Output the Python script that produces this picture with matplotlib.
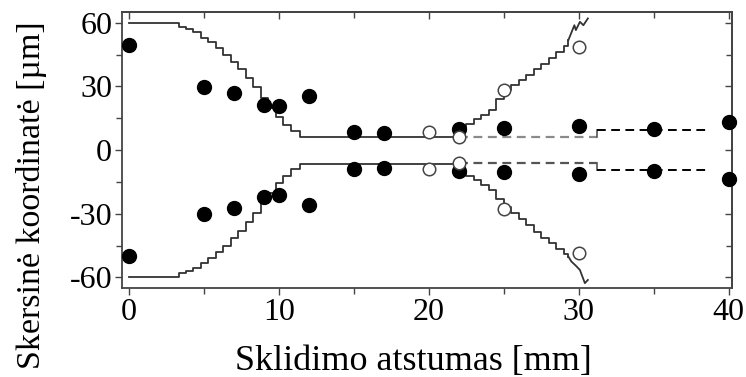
import matplotlib
matplotlib.use("Agg")
import matplotlib.pyplot as plt

# --- data ---
# measured points (filled)
x_meas = [0, 5, 7, 9, 10, 12, 15, 17, 22, 25, 30, 35, 40]
y_meas_up = [49.4, 29.8, 26.7, 21.2, 20.7, 25.3, 8.5, 7.8, 9.7, 10.2, 11.4, 9.9, 13.0]
y_meas_lo = [-49.7, -30.3, -27.1, -22.0, -21.2, -25.9, -8.9, -8.3, -9.7, -10.2, -11.3, -9.9, -13.6]

# open circles
x_open = [20, 22, 25, 30]
y_open_up = [8.7, 6.3, 28.2, 48.6]
y_open_lo = [-8.9, -6.0, -27.9, -48.6]

# contraction staircase
x_contr = [0, 3.3, 3.8, 4.3, 4.8, 5.3, 5.8, 6.3, 6.8, 7.3, 7.8, 8.3, 8.8, 9.3, 9.8, 10.3, 10.8, 11.4, 22]
y_contr_up = [60, 58, 57, 55.5, 53, 51, 48, 45, 41.5, 38, 34, 29.5, 24.5, 20, 15.5, 12, 9, 6.3, 6.3]
y_contr_lo = [-60, -58, -57, -55.5, -53, -51, -48, -45, -41.5, -38, -34, -29.5, -24.5, -20, -15.5, -12, -9, -6.6, -6.6]

# divergence staircase after 22 mm
x_div = [22, 22.5, 23.0, 23.5, 24.0, 24.5, 25.0, 25.5, 26.0, 26.5, 27.0, 27.5, 28.0, 28.5, 29.0, 29.3]
y_div_up = [10, 12.5, 14.5, 16.5, 18.8, 24, 28.2, 30.5, 33, 35.5, 38, 40.5, 43.5, 46, 49, 51.8]
y_div_lo = [-9.7, -12, -14, -16.5, -19, -23, -26.7, -29.5, -32.5, -35.5, -38.5, -41.5, -44, -46.5, -49, -50.2]

# zigzag ends near 30 mm
x_zig_up = [29.3, 29.7, 29.8, 30.07, 30.3, 30.6]
y_zig_up = [51.8, 58.8, 56.5, 60.4, 58.8, 62.0]
x_zig_lo = [29.3, 29.5, 29.8, 30.07, 30.4, 30.6]
y_zig_lo = [-50.2, -52.5, -54.5, -56.5, -62.7, -61.2]

# dashed levels
x_dash_gray = [22, 31.2]
y_dash_gray = 6.3
x_dash_black = [31.2, 38.7]
y_dash_black = 9.4

xticks = [0, 10, 20, 30, 40]
yticks = [-60, -30, 0, 30, 60]
xminor = [5, 15, 25, 35]
yminor = [-45, -15, 15, 45]

plt.rcParams['font.family'] = ['Liberation Serif', 'DejaVu Serif']
plt.rcParams['axes.unicode_minus'] = False

fig = plt.figure(figsize=(7.46, 3.77), dpi=100)
ax = fig.add_axes([0.1635, 0.236, 0.8175, 0.732])

lc = '#333333'
lw = 1.3
ax.plot(x_contr, y_contr_up, drawstyle='steps-post', color=lc, lw=lw)
ax.plot(x_contr, y_contr_lo, drawstyle='steps-post', color=lc, lw=lw)
ax.plot([22, 22], [y_contr_up[-1], y_div_up[0]], color=lc, lw=lw)
ax.plot([22, 22], [y_contr_lo[-1], y_div_lo[0]], color=lc, lw=lw)
ax.plot(x_div, y_div_up, drawstyle='steps-post', color=lc, lw=lw)
ax.plot(x_div, y_div_lo, drawstyle='steps-post', color=lc, lw=lw)
ax.plot(x_zig_up, y_zig_up, color=lc, lw=lw)
ax.plot(x_zig_lo, y_zig_lo, color=lc, lw=lw)

ax.plot(x_dash_gray, [y_dash_gray] * 2, color='#8a8a8a', lw=1.6, dashes=(4, 2.5))
ax.plot(x_dash_gray, [-y_dash_gray] * 2, color='#555555', lw=1.6, dashes=(4, 2.5))
ax.plot([x_dash_black[0]] * 2, [y_dash_gray, y_dash_black], color='#555555', lw=1.2)
ax.plot([x_dash_black[0]] * 2, [-y_dash_gray, -y_dash_black], color='#555555', lw=1.2)
ax.plot(x_dash_black, [y_dash_black] * 2, color='black', lw=1.4, dashes=(4.5, 2.8))
ax.plot(x_dash_black, [-y_dash_black] * 2, color='black', lw=1.4, dashes=(4.5, 2.8))

ax.plot(x_meas, y_meas_up, 'o', color='black', ms=10, zorder=5, clip_on=False)
ax.plot(x_meas, y_meas_lo, 'o', color='black', ms=10, zorder=5, clip_on=False)
ax.plot(x_open, y_open_up, 'o', mfc='white', mec='#444444', mew=1.1, ms=9, zorder=6)
ax.plot(x_open, y_open_lo, 'o', mfc='white', mec='#444444', mew=1.1, ms=9, zorder=6)

ax.set_xlim(-0.47, 40.2)
ax.set_ylim(-65, 65)
ax.set_xticks(xticks)
ax.set_yticks(yticks)
ax.set_xticks(xminor, minor=True)
ax.set_yticks(yminor, minor=True)
ax.tick_params(axis='both', which='both', direction='out', labelsize=23,
               color='#444444', width=1)
ax.tick_params(which='major', length=5, pad=2)
ax.tick_params(which='minor', length=4)

# inward ticks on top and right
top = ax.secondary_xaxis('top')
top.set_xticks(xticks)
top.set_xticks(xminor, minor=True)
top.tick_params(which='both', direction='in', labeltop=False, color='#444444', width=1)
top.tick_params(which='major', length=5)
top.tick_params(which='minor', length=4)
right = ax.secondary_yaxis('right')
right.set_yticks(yticks)
right.set_yticks(yminor, minor=True)
right.tick_params(which='both', direction='in', labelright=False, color='#444444', width=1)
right.tick_params(which='major', length=5)
right.tick_params(which='minor', length=4)

for a in (ax, top, right):
    for spine in a.spines.values():
        spine.set_color('#444444')
        spine.set_linewidth(1.3)

ax.set_xlabel('Sklidimo atstumas [mm]', fontsize=26)
ax.xaxis.set_label_coords(0.478, -0.205)
ax.set_ylabel('Skersinė koordinatė [µm]', fontsize=24.5)
ax.yaxis.set_label_coords(-0.123, 0.335)

fig.savefig('out.png', dpi=100)
